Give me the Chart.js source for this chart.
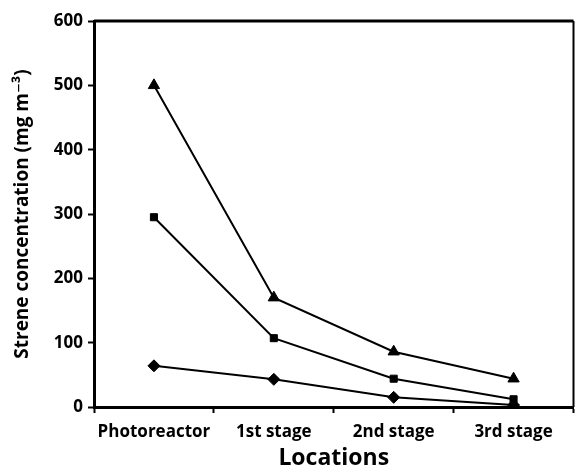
<!DOCTYPE html>
<html lang="en">
<head>
    <meta charset="UTF-8">
    <title>Strene concentration by location</title>
    <script src="https://cdn.jsdelivr.net/npm/chart.js@4.4.1/dist/chart.umd.min.js"></script>
    <style>
        * { box-sizing: border-box; }
        body { margin: 0; background: #fff; }
        #wrap { width: 581px; height: 470px; }
    </style>
</head>
<body>
    <div id="wrap"><canvas id="chart"></canvas></div>

    <script>
        const locations = ["Photoreactor", "1st stage", "2nd stage", "3rd stage"];
        const triangleSeries = [500, 170, 86, 44];
        const squareSeries = [295, 107, 44, 12];
        const diamondSeries = [64, 43, 15, 3];
        const yTicks = [0, 100, 200, 300, 400, 500, 600];

        const font = "'Open Sans', 'DejaVu Sans', sans-serif";

        // box round the plot area (top and right sides)
        const frame = {
            id: "frame",
            afterDraw(chart) {
                const { ctx, chartArea: a } = chart;
                ctx.save();
                ctx.strokeStyle = "#000";
                ctx.lineWidth = 3;
                ctx.beginPath();
                ctx.moveTo(a.left, a.top);
                ctx.lineTo(a.right, a.top);
                ctx.stroke();
                ctx.lineWidth = 2;
                ctx.beginPath();
                ctx.moveTo(a.right, a.top);
                ctx.lineTo(a.right, a.bottom);
                ctx.stroke();
                ctx.restore();
            }
        };

        function series(data, style, r) {
            return {
                data: data,
                borderColor: "#000",
                backgroundColor: "#000",
                borderWidth: 2,
                pointStyle: style,
                pointRadius: r,
                pointBorderWidth: 1,
                tension: 0
            };
        }

        new Chart(document.getElementById("chart"), {
            type: "line",
            data: {
                labels: locations,
                datasets: [
                    series(triangleSeries, "triangle", 6.5),
                    series(squareSeries, "rect", 5),
                    series(diamondSeries, "rectRot", 6)
                ]
            },
            options: {
                responsive: true,
                maintainAspectRatio: false,
                animation: false,
                layout: { padding: { top: 21, right: 1, left: 0, bottom: 0 } },
                plugins: {
                    legend: { display: false },
                    tooltip: { enabled: false }
                },
                scales: {
                    x: {
                        offset: true,
                        afterFit: s => { s.height = 63; },
                        grid: {
                            drawOnChartArea: false,
                            drawTicks: true,
                            tickLength: 6,
                            tickWidth: 2,
                            color: "#000",
                            offset: true
                        },
                        border: { color: "#000", width: 3 },
                        ticks: {
                            color: "#000",
                            padding: 9,
                            maxRotation: 0,
                            font: { family: font, size: 17, weight: "bold" }
                        },
                        title: {
                            display: true,
                            text: "Locations",
                            color: "#000",
                            padding: { top: 0, bottom: 0 },
                            font: { family: font, size: 23, weight: "bold", lineHeight: 1.0 }
                        }
                    },
                    y: {
                        min: 0,
                        max: 600,
                        afterFit: s => { s.width = 94; },
                        afterBuildTicks: s => { s.ticks = yTicks.map(v => ({ value: v })); },
                        grid: {
                            drawOnChartArea: false,
                            drawTicks: true,
                            tickLength: 6,
                            tickWidth: 2,
                            color: "#000"
                        },
                        border: { color: "#000", width: 3 },
                        ticks: {
                            color: "#000",
                            padding: 5,
                            font: { family: font, size: 17, weight: "bold" }
                        },
                        title: {
                            display: true,
                            text: "Strene concentration (mg m\u207B\u00B3)",
                            color: "#000",
                            padding: { top: 11, bottom: 0 },
                            font: { family: font, size: 19, weight: "bold" }
                        }
                    }
                }
            },
            plugins: [frame]
        });
    </script>
</body>
</html>
